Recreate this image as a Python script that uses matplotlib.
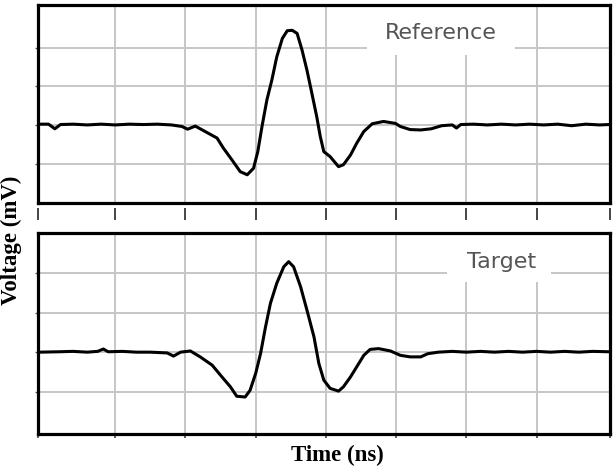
import numpy as np
import matplotlib
matplotlib.use("Agg")
from matplotlib import pyplot as plt
from matplotlib.patches import Rectangle

# Reference pulse (top panel): time and voltage in grid divisions
ref_t = [-0.07, 0.05, 0.14, 0.22, 0.4, 0.6, 0.8, 1.0, 1.2, 1.4,
         1.6, 1.8, 1.95, 2.03, 2.14, 2.28, 2.45, 2.54, 2.66, 2.78,
         2.88, 2.97, 3.03, 3.09, 3.16, 3.23, 3.30, 3.38, 3.45, 3.52,
         3.59, 3.66, 3.73, 3.80, 3.87, 3.92, 3.97, 4.06, 4.18, 4.25,
         4.35, 4.44, 4.54, 4.66, 4.82, 4.99, 5.06, 5.2, 5.35, 5.5,
         5.65, 5.8, 5.86, 5.92, 6.1, 6.3, 6.5, 6.7, 6.9, 7.1,
         7.3, 7.5, 7.7, 7.9, 8.03]
ref_v = [0.02, 0.02, -0.1, 0.01, 0.02, 0.0, 0.02, 0.0, 0.02, 0.01,
         0.02, 0.0, -0.04, -0.11, -0.03, -0.17, -0.34, -0.60, -0.90, -1.21,
         -1.29, -1.12, -0.69, -0.04, 0.65, 1.16, 1.76, 2.24, 2.44, 2.45,
         2.37, 1.94, 1.42, 0.82, 0.21, -0.30, -0.69, -0.82, -1.08, -1.03,
         -0.78, -0.47, -0.17, 0.03, 0.09, 0.04, -0.04, -0.12, -0.13, -0.1,
         -0.02, 0.0, -0.08, 0.01, 0.02, 0.0, 0.02, 0.0, 0.02, 0.0,
         0.02, -0.02, 0.02, 0.0, 0.01]

# Target pulse (bottom panel)
tgt_t = [-0.07, 0.2, 0.4, 0.6, 0.75, 0.83, 0.9, 1.1, 1.3, 1.5,
         1.74, 1.83, 1.93, 2.07, 2.21, 2.38, 2.52, 2.64, 2.73, 2.85,
         2.92, 3.00, 3.07, 3.14, 3.21, 3.30, 3.40, 3.47, 3.54, 3.64,
         3.73, 3.83, 3.90, 3.97, 4.06, 4.18, 4.25, 4.35, 4.44, 4.54,
         4.63, 4.75, 4.92, 5.06, 5.2, 5.35, 5.45, 5.6, 5.8, 6.0,
         6.2, 6.4, 6.6, 6.8, 7.0, 7.2, 7.4, 7.6, 7.8, 8.03]
tgt_v = [0.0, 0.01, 0.02, 0.0, 0.02, 0.08, 0.01, 0.02, 0.0, 0.0,
         -0.02, -0.1, 0.0, 0.03, -0.12, -0.33, -0.63, -0.88, -1.12, -1.14,
         -0.97, -0.54, -0.03, 0.64, 1.24, 1.75, 2.17, 2.30, 2.17, 1.66,
         1.07, 0.39, -0.29, -0.71, -0.92, -0.99, -0.88, -0.63, -0.37, -0.08,
         0.07, 0.09, 0.03, -0.08, -0.12, -0.12, -0.04, 0.0, 0.02, 0.0,
         0.02, 0.0, 0.02, 0.0, 0.02, 0.0, 0.02, 0.0, 0.02, 0.01]

x_grid = np.arange(1, 8)
y_grid = np.arange(-1, 3)
x_lim = (-0.1, 8.05)
x_ticks = [x_lim[0], 1, 2, 3, 4, 5, 6, 7, x_lim[1]]

fig = plt.figure(figsize=(6.16, 4.72), dpi=100)
ax1 = fig.add_axes([0.0617, 0.570, 0.929, 0.419])
ax2 = fig.add_axes([0.0617, 0.0805, 0.929, 0.426])

panels = [
    (ax1, ref_t, ref_v, "Reference", (-2.02, 3.1), (4.59, 1.81, 2.11, 1.4), (5.63, 2.38)),
    (ax2, tgt_t, tgt_v, "Target", (-2.08, 3.03), (5.73, 1.78, 1.48, 1.4), (6.5, 2.29)),
]

for ax, t, v, name, ylim, box, txt in panels:
    ax.set_xlim(*x_lim)
    ax.set_ylim(*ylim)
    ax.set_xticks(x_ticks)
    ax.set_yticks(y_grid)
    ax.set_xticklabels([])
    ax.set_yticklabels([])
    for x in x_grid:
        ax.axvline(x, color="#c6c6c6", lw=1.4, zorder=0.5)
    for y in y_grid:
        ax.axhline(y, color="#c6c6c6", lw=1.4, zorder=0.5)
    # white patch behind the label breaks the grid like in the original
    ax.add_patch(Rectangle((box[0], box[1]), box[2], box[3], facecolor="white",
                           edgecolor="none", zorder=1))
    ax.plot(t, v, color="black", lw=2.2, zorder=2)
    ax.text(txt[0], txt[1], name, ha="center", va="center", fontsize=16,
            family="DejaVu Sans", color="#555555", zorder=3)
    for s in ax.spines.values():
        s.set_linewidth(2.3)
    ax.tick_params(axis="y", direction="out", length=2.5, width=1.0, color="#555555")

# top panel: tick row sits a little below the frame
ax1.tick_params(axis="x", length=0)
sec = ax1.secondary_xaxis(-0.025)
sec.set_xticks(x_ticks)
sec.set_xticklabels([])
sec.spines["bottom"].set_visible(False)
sec.tick_params(axis="x", direction="out", length=8.6, width=1.4, color="#444444")

ax2.tick_params(axis="x", direction="out", length=3, width=1.2, color="#444444")

fig.text(0.002, 0.49, "Voltage (mV)", rotation=90, ha="left", va="center",
         fontsize=16.5, fontweight="bold", family="Liberation Serif")
fig.text(0.547, 0.034, "Time (ns)", ha="center", va="center",
         fontsize=16.5, fontweight="bold", family="Liberation Serif")

plt.savefig("out.png", dpi=100)
